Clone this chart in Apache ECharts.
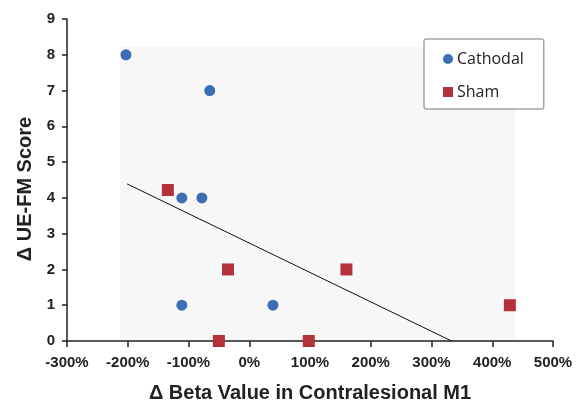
<!DOCTYPE html>
<html>
<head>
<meta charset="utf-8">
<script src="https://cdn.jsdelivr.net/npm/echarts@6/dist/echarts.min.js"></script>
<style>
html,body{margin:0;padding:0;background:#fff;}
#chart{width:583px;height:408px;}
</style>
</head>
<body>
<div id="chart"></div>
<script>
// Cathodal group: [delta beta %, delta UE-FM]
var cathodalX = [-203, -65, -111, -78, -111, 39];
var cathodalY = [8, 7, 4, 4, 1, 1];
// Sham group
var shamX = [-134, -35, -50, 98, 160, 429];
var shamY = [4.22, 2, 0, 0, 2, 1];
// linear trend line end points
var trendX = [-201, 333];
var trendY = [4.39, 0];
// shaded plot area (Excel style)
var shadeX = [-213, 438];
var shadeY = [0, 8.22];

function pairs(xs, ys){
    var out = [];
    for (var i = 0; i < xs.length; i++){
        out.push([xs[i], ys[i]]);
    }
    return out;
}

var myChart = echarts.init(document.getElementById('chart'));
var tickFont = {fontFamily: 'Liberation Sans', fontWeight: 'bold', fontSize: 15, color: '#222'};
var option = {
    animation: false,
    grid: {left: 67, right: 30, top: 19, bottom: 65},
    legend: {
        data: ['Cathodal', 'Sham'],
        orient: 'vertical',
        left: 424, top: 39,
        padding: [12, 20, 9, 19],
        itemGap: 17,
        itemWidth: 10, itemHeight: 10,
        borderColor: '#777', borderWidth: 1, borderRadius: 2,
        backgroundColor: '#fff',
        textStyle: {fontFamily: 'Open Sans', fontSize: 16, color: '#222', padding: [0, 0, 0, -1]}
    },
    xAxis: {
        type: 'value',
        z: 10,
        min: -300, max: 500, interval: 100,
        name: 'Δ Beta Value in Contralesional M1',
        nameLocation: 'middle', nameGap: 42,
        nameTextStyle: {fontFamily: 'Liberation Sans', fontWeight: 'bold', fontSize: 20, color: '#222'},
        axisLine: {show: true, onZero: false, lineStyle: {color: '#222', width: 1.5}},
        axisTick: {show: true, inside: false, length: 6, lineStyle: {color: '#222', width: 1.5}},
        axisLabel: Object.assign({formatter: '{value}%', margin: 14}, tickFont),
        splitLine: {show: false}
    },
    yAxis: {
        type: 'value',
        z: 10,
        min: 0, max: 9, interval: 1,
        name: 'Δ UE-FM Score',
        nameLocation: 'middle', nameGap: 30,
        nameTextStyle: {fontFamily: 'Liberation Sans', fontWeight: 'bold', fontSize: 20, color: '#222', padding: [0, 18, 0, 0]},
        axisLine: {show: true, onZero: false, lineStyle: {color: '#222', width: 1.5}},
        axisTick: {show: true, length: 5, lineStyle: {color: '#222', width: 1.5}},
        axisLabel: Object.assign({margin: 12}, tickFont),
        splitLine: {show: false}
    },
    series: [
        {
            name: 'trend',
            type: 'line',
            data: pairs(trendX, trendY),
            symbol: 'none',
            lineStyle: {color: '#111', width: 1},
            z: 1,
            markArea: {
                silent: true,
                itemStyle: {color: '#f7f7f7'},
                data: [[{coord: [shadeX[0], shadeY[1]]}, {coord: [shadeX[1], shadeY[0]]}]]
            }
        },
        {
            name: 'Cathodal',
            type: 'scatter',
            symbol: 'circle',
            symbolSize: 11,
            itemStyle: {color: '#3d6db5', opacity: 1},
            data: pairs(cathodalX, cathodalY),
            z: 11
        },
        {
            name: 'Sham',
            type: 'scatter',
            symbol: 'rect',
            symbolSize: 12,
            itemStyle: {color: '#b3313a', opacity: 1},
            data: pairs(shamX, shamY),
            z: 11
        }
    ]
};
myChart.setOption(option);
</script>
</body>
</html>
